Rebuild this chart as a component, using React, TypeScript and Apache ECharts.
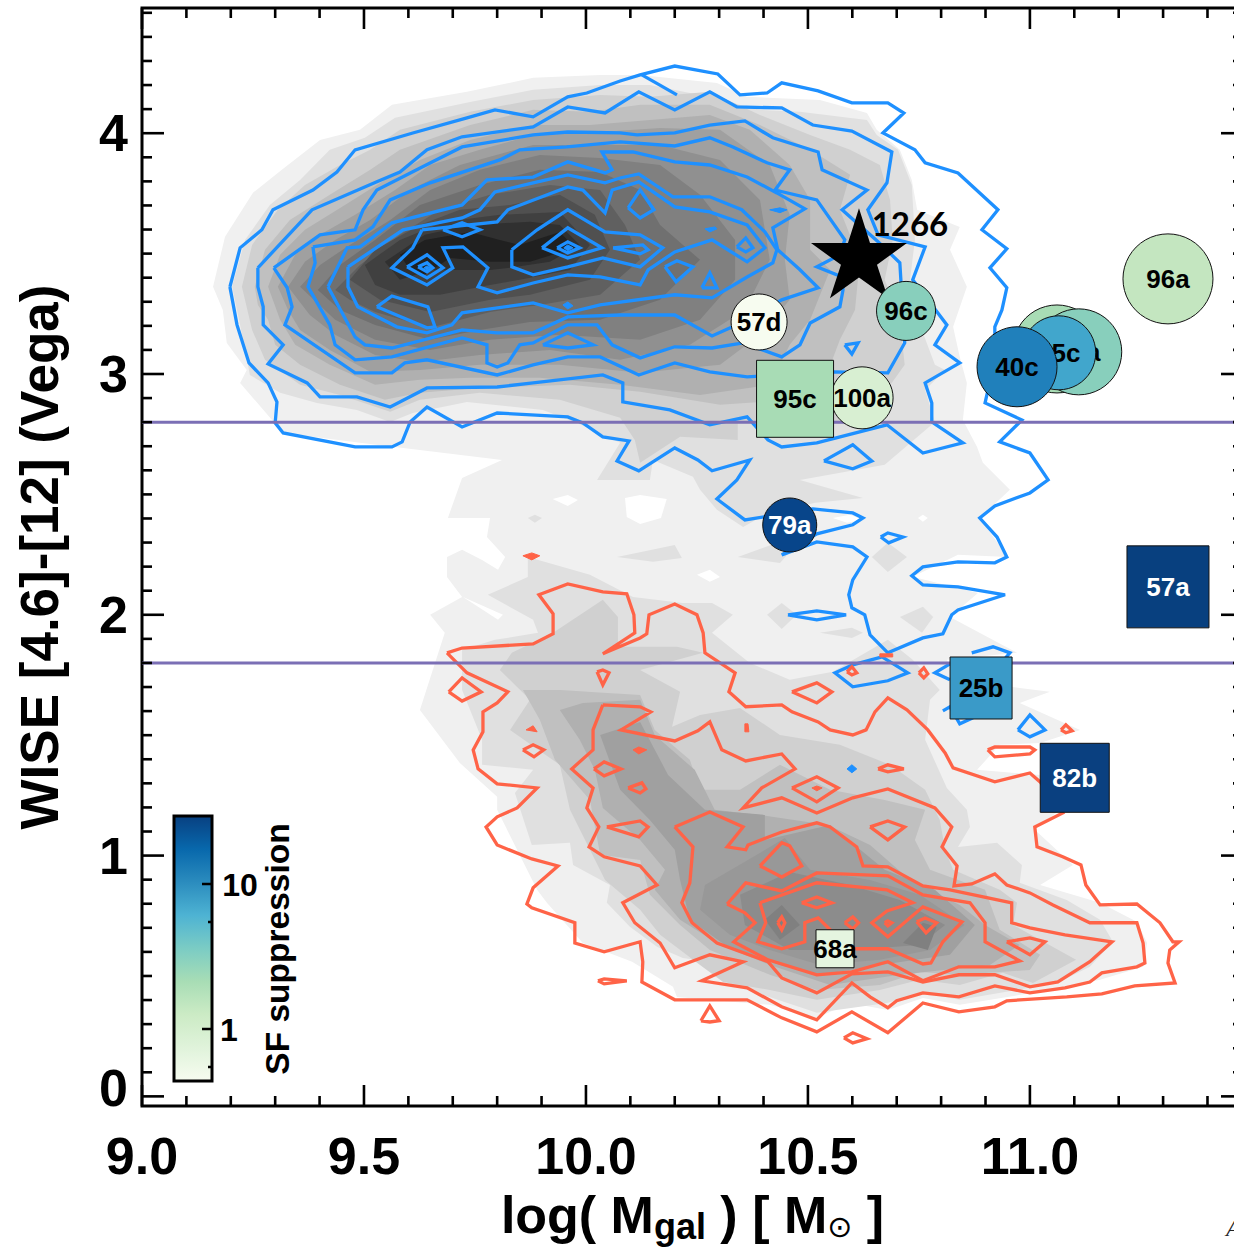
import React, { useEffect, useRef } from "react";
import * as echarts from "echarts";

type P = number[];

// axis values
const xTickLabels = [9, 9.5, 10, 10.5, 11];
const yTickLabels = [0, 1, 2, 3, 4];
const xMinorTicks = [9.1,9.2,9.3,9.4,9.6,9.7,9.8,9.9,10.1,10.2,10.3,10.4,10.6,10.7,10.8,10.9,11.1,11.2,11.3,11.4];
const yMinorTicks = [0.1,0.2,0.3,0.4,0.5,0.6,0.7,0.8,0.9,1.1,1.2,1.3,1.4,1.5,1.6,1.7,1.8,1.9,2.1,2.2,2.3,2.4,2.5,2.6,2.7,2.8,2.9,3.1,3.2,3.3,3.4,3.5,3.6,3.7,3.8,3.9,4.1,4.2,4.3,4.4,4.5];
const selectionLines = [2.8, 1.8];

// filled density levels
const grayOutline: P[] = [[9.160,3.362],[9.187,3.570],[9.250,3.753],[9.315,3.848],[9.401,3.972],[9.491,4.014],[9.563,4.118],[9.732,4.172],[9.881,4.230],[10.032,4.242],[10.122,4.242],[10.295,4.209],[10.363,4.151],[10.527,4.138],[10.633,4.084],[10.655,4.014],[10.707,3.931],[10.734,3.806],[10.746,3.682],[10.842,3.611],[10.820,3.516],[10.858,3.362],[10.827,3.196],[10.842,3.071],[10.858,2.963],[10.849,2.809],[10.881,2.697],[10.894,2.631],[10.955,2.519],[10.887,2.402],[10.950,2.240],[10.838,2.249],[10.736,2.158],[10.883,2.091],[10.820,1.991],[10.971,1.842],[10.813,1.813],[10.831,1.730],[11.045,1.680],[10.977,1.634],[11.113,1.522],[11.023,1.468],[10.932,1.460],[10.881,1.356],[11.023,1.335],[11.068,1.190],[11.011,1.107],[11.097,0.961],[11.023,0.878],[11.158,0.804],[11.241,0.725],[11.264,0.637],[11.255,0.538],[11.158,0.484],[11.007,0.430],[10.842,0.380],[10.759,0.409],[10.680,0.359],[10.595,0.388],[10.520,0.326],[10.414,0.380],[10.205,0.413],[10.196,0.455],[10.104,0.559],[9.993,0.637],[9.912,0.804],[9.890,0.858],[9.800,1.190],[9.800,1.244],[9.716,1.385],[9.626,1.605],[9.682,1.925],[9.649,2.000],[9.721,2.074],[9.687,2.157],[9.687,2.240],[9.721,2.270],[9.766,2.228],[9.802,2.187],[9.818,2.240],[9.777,2.323],[9.784,2.402],[9.689,2.402],[9.721,2.568],[9.811,2.643],[9.491,2.714],[9.318,2.755],[9.221,2.963],[9.236,3.017],[9.191,3.129],[9.182,3.266]];
const whiteHoles: P[][] = [
  [[9.925,2.481],[9.959,2.498],[9.982,2.477],[9.959,2.452]],
  [[10.088,2.485],[10.122,2.498],[10.182,2.481],[10.169,2.402],[10.122,2.377],[10.092,2.406]],
  [[10.250,2.166],[10.279,2.187],[10.302,2.157],[10.279,2.137]],
  [[10.748,2.402],[10.759,2.415],[10.770,2.402],[10.759,2.386]],
  [[9.946,1.198],[9.957,1.219],[9.968,1.198],[9.957,1.173]],
  [[10.556,2.402],[10.595,2.415],[10.624,2.394],[10.588,2.382]],
  [[9.723,2.074],[9.813,2.000],[9.802,1.979]],
];
const grayE0: P[][] = [
  [[9.203,3.362],[9.232,3.557],[9.288,3.702],[9.356,3.806],[9.423,3.931],[9.502,3.981],[9.570,4.064],[9.739,4.130],[9.881,4.180],[10.032,4.200],[10.144,4.200],[10.257,4.159],[10.392,4.097],[10.482,4.089],[10.633,4.055],[10.655,3.993],[10.703,3.931],[10.734,3.785],[10.741,3.557],[10.730,3.391],[10.748,3.225],[10.786,3.038],[10.809,3.017],[10.764,2.934],[10.786,2.801],[10.673,2.623],[10.482,2.560],[10.624,2.485],[10.516,2.465],[10.403,2.415],[10.354,2.365],[10.295,2.436],[10.257,2.519],[10.241,2.573],[10.151,2.643],[10.144,2.560],[10.025,2.560],[10.077,2.714],[9.980,2.797],[9.903,2.851],[9.732,2.884],[9.610,2.838],[9.559,2.801],[9.484,2.851],[9.394,2.880],[9.311,2.922],[9.243,2.996],[9.221,3.204]],
  [[10.070,2.240],[10.200,2.290],[10.216,2.236],[10.151,2.220]],
  [[10.342,2.240],[10.437,2.303],[10.459,2.261],[10.437,2.215]],
  [[10.408,2.000],[10.441,2.049],[10.475,2.000],[10.441,1.941]],
  [[10.644,2.240],[10.680,2.299],[10.723,2.240],[10.680,2.178]],
  [[10.707,1.991],[10.759,2.033],[10.782,1.991],[10.757,1.925]],
  [[10.527,1.925],[10.599,1.946],[10.624,1.925],[10.599,1.904]],
  [[9.869,2.402],[9.885,2.415],[9.901,2.402],[9.885,2.382]],
  [[9.779,2.083],[9.869,2.157],[9.869,2.240],[10.009,2.166],[10.106,2.074],[10.218,2.049],[10.284,2.049],[10.331,2.000],[10.284,1.925],[10.369,1.800],[10.459,1.730],[10.556,1.763],[10.680,1.896],[10.736,1.813],[10.797,1.688],[10.775,1.647],[10.764,1.481],[10.813,1.281],[10.858,1.190],[10.865,1.119],[10.838,1.036],[10.926,1.053],[10.982,0.961],[10.977,0.887],[11.083,0.816],[11.158,0.733],[11.187,0.642],[11.135,0.538],[11.061,0.471],[10.842,0.401],[10.759,0.430],[10.678,0.388],[10.520,0.347],[10.313,0.475],[10.279,0.559],[10.218,0.575],[10.160,0.621],[10.099,0.704],[10.047,0.804],[10.054,0.878],[9.971,0.961],[9.964,1.053],[9.878,1.044],[9.840,1.260],[9.881,1.356],[9.766,1.377],[9.766,1.481],[9.721,1.688],[9.721,1.854],[9.795,1.896],[9.892,1.925],[9.881,1.979]],
];
const grayD0: P[][] = [
  [[9.225,3.362],[9.248,3.536],[9.306,3.682],[9.367,3.785],[9.446,3.868],[9.514,3.931],[9.581,4.014],[9.739,4.089],[9.881,4.138],[10.032,4.159],[10.144,4.151],[10.279,4.172],[10.392,4.076],[10.505,3.993],[10.595,3.931],[10.662,3.868],[10.685,3.723],[10.691,3.557],[10.673,3.391],[10.707,3.225],[10.718,3.038],[10.662,2.893],[10.595,2.789],[10.459,2.810],[10.342,2.801],[10.342,2.726],[10.212,2.739],[10.122,2.631],[10.110,2.726],[10.077,2.818],[9.941,2.893],[9.761,2.922],[9.626,2.893],[9.559,2.843],[9.446,2.913],[9.356,2.955],[9.277,3.059],[9.248,3.183]],
  [[9.833,1.842],[9.926,1.925],[10.038,2.062],[10.072,1.991],[10.072,1.867],[10.205,1.867],[10.264,1.842],[10.122,1.771],[10.212,1.680],[10.194,1.535],[10.257,1.584],[10.347,1.613],[10.437,1.501],[10.572,1.460],[10.685,1.377],[10.764,1.273],[10.797,1.148],[10.809,1.024],[10.827,0.941],[10.932,0.858],[10.971,0.804],[10.962,0.712],[11.104,0.567],[11.007,0.471],[10.939,0.513],[10.842,0.463],[10.752,0.484],[10.662,0.442],[10.520,0.401],[10.414,0.442],[10.309,0.475],[10.257,0.546],[10.167,0.671],[10.122,0.775],[10.043,0.899],[10.009,1.024],[9.964,1.190],[9.941,1.377],[9.829,1.522],[9.874,1.647],[9.806,1.771]],
];
const grayC0: P[][] = [
  [[9.254,3.362],[9.277,3.516],[9.333,3.640],[9.423,3.744],[9.514,3.848],[9.581,3.931],[9.739,4.034],[9.881,4.097],[10.009,4.089],[10.122,4.118],[10.279,4.118],[10.392,4.034],[10.505,3.931],[10.595,3.827],[10.572,3.682],[10.617,3.474],[10.606,3.266],[10.572,3.142],[10.538,2.976],[10.459,2.893],[10.302,2.872],[10.122,2.926],[9.964,2.955],[9.761,2.942],[9.626,2.922],[9.547,2.893],[9.446,2.955],[9.356,3.038],[9.300,3.121],[9.284,3.225],[9.261,3.287]],
  [[9.858,1.688],[9.941,1.688],[10.122,1.667],[10.155,1.522],[10.234,1.398],[10.257,1.273],[10.347,1.273],[10.437,1.377],[10.550,1.273],[10.673,1.231],[10.764,1.190],[10.741,1.065],[10.775,0.941],[10.899,0.858],[10.932,0.692],[11.023,0.588],[11.000,0.525],[10.842,0.505],[10.752,0.517],[10.662,0.463],[10.520,0.442],[10.414,0.505],[10.279,0.608],[10.212,0.712],[10.144,0.837],[10.122,0.982],[10.032,1.003],[10.009,1.231],[9.930,1.398],[9.896,1.564]],
];
const grayB0: P[][] = [
  [[9.284,3.362],[9.311,3.495],[9.367,3.599],[9.457,3.702],[9.547,3.806],[9.626,3.889],[9.739,3.972],[9.881,4.034],[10.009,4.034],[10.144,4.055],[10.279,4.076],[10.369,4.014],[10.459,3.868],[10.505,3.723],[10.505,3.516],[10.550,3.433],[10.505,3.225],[10.459,3.121],[10.414,2.955],[10.257,2.913],[10.077,2.955],[9.896,2.984],[9.739,2.984],[9.626,2.976],[9.525,2.955],[9.423,3.038],[9.345,3.121],[9.311,3.225]],
  [[9.941,1.605],[9.993,1.634],[10.122,1.647],[10.155,1.501],[10.245,1.356],[10.290,1.190],[10.392,1.169],[10.545,1.127],[10.640,1.044],[10.730,0.899],[10.842,0.795],[10.899,0.712],[10.977,0.629],[10.910,0.546],[10.707,0.505],[10.550,0.463],[10.414,0.546],[10.302,0.629],[10.212,0.733],[10.155,0.858],[10.178,0.941],[10.122,1.065],[10.038,1.198],[10.020,1.356],[9.986,1.481]],
];
const grayA0: P[][] = [
  [[9.306,3.362],[9.345,3.495],[9.401,3.578],[9.480,3.661],[9.570,3.764],[9.649,3.868],[9.761,3.931],[9.881,3.993],[10.032,4.005],[10.167,4.022],[10.302,4.014],[10.414,3.868],[10.459,3.661],[10.448,3.474],[10.459,3.308],[10.392,3.163],[10.302,3.038],[10.122,3.005],[9.941,3.038],[9.761,3.038],[9.626,3.017],[9.514,3.009],[9.423,3.100],[9.356,3.183],[9.329,3.266]],
  [[10.032,1.501],[10.122,1.555],[10.185,1.335],[10.268,1.190],[10.403,1.169],[10.403,1.065],[10.550,1.127],[10.673,0.941],[10.786,0.858],[10.876,0.712],[10.820,0.588],[10.662,0.546],[10.527,0.505],[10.437,0.546],[10.313,0.629],[10.234,0.733],[10.212,0.899],[10.200,1.024],[10.144,1.148],[10.077,1.273]],
];
const gray98: P[][] = [
  [[10.268,0.878],[10.358,0.974],[10.448,1.073],[10.505,0.941],[10.640,0.899],[10.752,0.837],[10.853,0.712],[10.775,0.608],[10.662,0.567],[10.527,0.546],[10.414,0.608],[10.324,0.671],[10.257,0.775]],
];
const gray8C: P[][] = [
  [[10.347,0.837],[10.459,0.932],[10.595,0.878],[10.707,0.816],[10.809,0.712],[10.752,0.629],[10.595,0.608],[10.459,0.608],[10.358,0.712]],
];
const gray80Lower: P[][] = [
  [[10.403,0.733],[10.441,0.795],[10.482,0.712],[10.437,0.650]],
  [[10.714,0.637],[10.759,0.721],[10.790,0.704],[10.770,0.608]],
];
const gray90: P[] = [[9.329,3.362],[9.367,3.466],[9.435,3.557],[9.514,3.640],[9.604,3.764],[9.716,3.868],[9.881,3.951],[10.032,3.951],[10.167,3.951],[10.302,3.889],[10.392,3.723],[10.414,3.474],[10.358,3.266],[10.234,3.121],[10.077,3.059],[9.919,3.100],[9.761,3.079],[9.626,3.050],[9.525,3.079],[9.435,3.163],[9.378,3.245]];
const gray80: P[] = [[9.356,3.362],[9.401,3.453],[9.468,3.536],[9.559,3.640],[9.649,3.764],[9.761,3.848],[9.896,3.910],[10.032,3.897],[10.167,3.868],[10.257,3.744],[10.336,3.557],[10.336,3.391],[10.257,3.225],[10.122,3.142],[9.941,3.163],[9.784,3.142],[9.649,3.100],[9.525,3.142],[9.435,3.225]];
const gray70: P[] = [[9.396,3.349],[9.446,3.453],[9.525,3.557],[9.626,3.702],[9.761,3.785],[9.896,3.848],[10.032,3.839],[10.122,3.764],[10.167,3.619],[10.257,3.474],[10.167,3.308],[10.032,3.225],[9.874,3.216],[9.761,3.183],[9.649,3.142],[9.525,3.204],[9.446,3.266]];
const gray60: P[] = [[9.435,3.349],[9.491,3.453],[9.581,3.578],[9.671,3.682],[9.784,3.744],[9.919,3.785],[10.032,3.764],[10.088,3.619],[10.122,3.474],[10.032,3.329],[9.896,3.287],[9.784,3.258],[9.649,3.192],[9.525,3.258],[9.468,3.308]];
const gray50: P[] = [[9.468,3.391],[9.525,3.516],[9.626,3.619],[9.716,3.682],[9.829,3.702],[9.941,3.744],[10.020,3.661],[10.054,3.516],[10.009,3.391],[9.874,3.329],[9.784,3.308],[9.649,3.258],[9.536,3.308]];
const gray40: P[] = [[9.502,3.453],[9.581,3.557],[9.682,3.632],[9.806,3.661],[9.941,3.673],[10.009,3.536],[9.964,3.432],[9.851,3.391],[9.784,3.370],[9.671,3.329],[9.581,3.329],[9.525,3.370]];
const gray30: P[] = [[9.547,3.466],[9.637,3.578],[9.739,3.619],[9.874,3.632],[9.941,3.619],[9.986,3.536],[9.919,3.466],[9.829,3.441],[9.784,3.432],[9.649,3.432],[9.581,3.391]];
const gray20: P[] = [[9.581,3.495],[9.637,3.557],[9.739,3.590],[9.806,3.557],[9.851,3.536],[9.941,3.590],[9.975,3.524],[9.874,3.466],[9.784,3.466],[9.694,3.482],[9.637,3.412],[9.604,3.432]];

// high-colour contours
const blueA: P[] = [[9.198,3.362],[9.221,3.524],[9.270,3.599],[9.295,3.682],[9.385,3.764],[9.439,3.839],[9.480,3.931],[9.610,4.001],[9.732,4.064],[9.795,4.097],[9.881,4.068],[9.959,4.151],[10.002,4.167],[10.077,4.217],[10.122,4.242],[10.200,4.279],[10.297,4.246],[10.347,4.159],[10.408,4.167],[10.441,4.209],[10.523,4.176],[10.599,4.126],[10.680,4.126],[10.716,4.084],[10.669,4.001],[10.741,3.931],[10.764,3.877],[10.838,3.835],[10.928,3.682],[10.892,3.599],[10.948,3.520],[10.910,3.441],[10.948,3.358],[10.937,3.266],[10.921,3.196],[10.921,3.059],[10.899,2.880],[10.982,2.809],[10.932,2.718],[11.000,2.672],[11.041,2.560],[11.000,2.506],[10.921,2.452],[10.887,2.402],[10.926,2.323],[10.948,2.240],[10.921,2.216],[10.838,2.220],[10.759,2.199],[10.734,2.162],[10.759,2.124],[10.838,2.116],[10.944,2.083],[10.838,2.020],[10.824,2.000],[10.804,1.921],[10.759,1.904],[10.680,1.842],[10.640,1.916],[10.628,2.000],[10.599,2.029],[10.592,2.083],[10.601,2.145],[10.633,2.240],[10.601,2.282],[10.520,2.303],[10.441,2.249],[10.520,2.336],[10.601,2.374],[10.624,2.402],[10.601,2.423],[10.511,2.440],[10.358,2.394],[10.295,2.481],[10.340,2.560],[10.369,2.643],[10.284,2.598],[10.252,2.643],[10.200,2.693],[10.119,2.598],[10.070,2.639],[10.097,2.722],[10.038,2.739],[9.993,2.797],[9.959,2.822],[9.800,2.838],[9.721,2.780],[9.642,2.863],[9.604,2.801],[9.586,2.718],[9.563,2.697],[9.480,2.697],[9.318,2.755],[9.300,2.797],[9.304,2.884],[9.284,2.963],[9.241,3.046],[9.214,3.204]];
const blueB: P[] = [[9.261,3.441],[9.383,3.682],[9.529,3.798],[9.581,3.839],[9.642,3.931],[9.721,3.985],[9.881,4.026],[9.959,4.109],[10.043,4.084],[10.119,4.172],[10.200,4.097],[10.279,4.172],[10.340,4.109],[10.441,4.105],[10.511,4.034],[10.599,4.009],[10.689,3.922],[10.678,3.794],[10.635,3.682],[10.658,3.578],[10.764,3.528],[10.736,3.391],[10.813,3.204],[10.786,3.121],[10.842,3.046],[10.764,2.963],[10.779,2.880],[10.779,2.801],[10.849,2.714],[10.759,2.672],[10.678,2.789],[10.520,2.714],[10.441,2.697],[10.410,2.726],[10.363,2.822],[10.279,2.789],[10.189,2.851],[10.083,2.884],[10.083,2.963],[10.038,2.996],[9.881,2.963],[9.800,2.946],[9.642,2.942],[9.559,2.863],[9.484,2.905],[9.401,2.905],[9.372,2.963],[9.284,3.042],[9.318,3.121],[9.273,3.204],[9.273,3.279],[9.261,3.362]];
const blueC: P[] = [[9.297,3.441],[9.401,3.578],[9.480,3.599],[9.498,3.682],[9.529,3.764],[9.631,3.860],[9.721,3.943],[9.881,3.993],[9.959,4.005],[10.077,4.001],[10.115,3.993],[10.200,4.001],[10.279,4.034],[10.358,4.051],[10.421,3.981],[10.523,3.922],[10.532,3.848],[10.633,3.764],[10.577,3.682],[10.658,3.549],[10.707,3.462],[10.718,3.129],[10.680,3.005],[10.556,3.009],[10.363,2.988],[10.279,3.009],[10.200,3.046],[10.119,2.996],[10.032,3.071],[9.959,3.071],[9.881,3.038],[9.800,2.996],[9.642,3.059],[9.592,3.046],[9.563,3.005],[9.480,3.005],[9.322,3.204],[9.338,3.279],[9.327,3.358]];
const blueD: P[] = [[9.385,3.528],[9.480,3.557],[9.520,3.611],[9.559,3.723],[9.649,3.794],[9.806,3.889],[9.851,3.931],[9.957,3.943],[10.077,3.964],[10.200,3.947],[10.279,3.981],[10.331,3.943],[10.408,3.877],[10.459,3.848],[10.426,3.764],[10.520,3.723],[10.583,3.557],[10.572,3.495],[10.520,3.445],[10.577,3.403],[10.579,3.349],[10.572,3.279],[10.505,3.212],[10.482,3.121],[10.441,3.071],[10.354,3.129],[10.284,3.108],[10.200,3.113],[10.122,3.067],[10.059,3.121],[10.025,3.204],[9.959,3.204],[9.881,3.129],[9.851,3.121],[9.824,3.046],[9.800,3.029],[9.777,3.046],[9.777,3.121],[9.721,3.150],[9.563,3.071],[9.480,3.059],[9.435,3.121],[9.423,3.204],[9.374,3.362],[9.390,3.462]];
const blueE: P[] = [[9.419,3.362],[9.462,3.524],[9.491,3.528],[9.563,3.628],[9.721,3.702],[9.777,3.806],[9.881,3.818],[9.959,3.881],[10.043,3.835],[10.059,3.848],[10.036,3.922],[10.106,3.922],[10.200,3.881],[10.279,3.868],[10.363,3.818],[10.430,3.752],[10.493,3.686],[10.421,3.607],[10.432,3.516],[10.482,3.433],[10.523,3.358],[10.441,3.308],[10.354,3.216],[10.284,3.158],[10.200,3.245],[10.077,3.245],[9.959,3.237],[9.881,3.171],[9.800,3.171],[9.721,3.183],[9.563,3.108],[9.502,3.121],[9.480,3.154]];
const blueF: P[] = [[9.464,3.445],[9.588,3.599],[9.721,3.648],[9.761,3.682],[9.795,3.756],[9.881,3.794],[9.959,3.827],[10.043,3.794],[10.077,3.814],[10.119,3.831],[10.196,3.736],[10.279,3.736],[10.351,3.682],[10.403,3.590],[10.430,3.516],[10.421,3.462],[10.363,3.403],[10.284,3.316],[10.200,3.329],[10.032,3.287],[9.959,3.254],[9.881,3.295],[9.721,3.254],[9.698,3.204],[9.642,3.171],[9.574,3.196],[9.486,3.279],[9.464,3.362]];
const blueH: P[] = [[9.631,3.599],[9.800,3.632],[9.824,3.682],[9.959,3.777],[9.993,3.764],[10.043,3.669],[10.059,3.764],[10.119,3.798],[10.200,3.694],[10.279,3.673],[10.363,3.619],[10.403,3.524],[10.363,3.466],[10.284,3.557],[10.200,3.507],[10.140,3.432],[10.122,3.370],[10.032,3.403],[9.959,3.412],[9.881,3.378],[9.800,3.337],[9.757,3.362],[9.779,3.441],[9.723,3.528],[9.678,3.524],[9.700,3.441],[9.642,3.370],[9.563,3.441],[9.610,3.524]];
const blueI: P[] = [[9.833,3.516],[9.890,3.599],[9.959,3.682],[10.043,3.590],[10.122,3.578],[10.173,3.524],[10.122,3.445],[10.038,3.482],[9.959,3.445],[9.881,3.412],[9.833,3.445]];
const blueLoops: P[][] = [
  [[9.529,3.279],[9.563,3.324],[9.644,3.279],[9.660,3.196],[9.642,3.192]],
  [[9.901,3.524],[9.959,3.607],[10.036,3.524],[9.959,3.482]],
  [[9.935,3.524],[9.959,3.549],[9.986,3.524],[9.959,3.503]],
  [[9.597,3.445],[9.642,3.495],[9.678,3.441],[9.642,3.399]],
  [[9.622,3.445],[9.642,3.462],[9.655,3.441],[9.642,3.424]],
  [[9.678,3.599],[9.721,3.628],[9.761,3.599],[9.721,3.570]],
  [[9.903,3.121],[9.959,3.171],[10.016,3.121],[9.959,3.108]],
  [[10.061,3.524],[10.128,3.536],[10.140,3.516],[10.122,3.499]],
  [[10.095,3.690],[10.122,3.764],[10.153,3.682],[10.122,3.648]],
  [[10.340,3.528],[10.360,3.565],[10.376,3.524],[10.360,3.507]],
  [[10.178,3.445],[10.205,3.470],[10.241,3.445],[10.203,3.383]],
  [[10.261,3.358],[10.279,3.420],[10.295,3.358]],
  [[10.583,3.121],[10.613,3.129],[10.599,3.083]],
  [[10.536,2.639],[10.601,2.706],[10.644,2.639],[10.601,2.606]],
  [[10.664,2.323],[10.680,2.340],[10.714,2.323],[10.682,2.299]],
  [[10.455,2.000],[10.520,2.016],[10.586,2.000],[10.520,1.979]],
  [[10.667,1.825],[10.725,1.759],[10.680,1.726],[10.601,1.701],[10.561,1.759],[10.601,1.792]],
  [[10.973,1.522],[11.000,1.584],[11.034,1.522],[11.000,1.493]],
];
const blueOpen: P[][] = [
  [[10.126,4.242],[10.205,4.159]],
  [[10.820,1.730],[10.786,1.759],[10.820,1.796]],
  [[10.869,1.842],[10.917,1.867],[10.955,1.842],[10.932,1.792]],
  [[10.804,1.601],[10.820,1.618],[10.842,1.547],[10.872,1.572]],
];
const blueDots: P[][] = [
  [[10.414,3.682],[10.437,3.690],[10.453,3.682],[10.437,3.670]],
  [[10.268,3.603],[10.291,3.611],[10.295,3.603],[10.279,3.590]],
  [[9.948,3.287],[9.959,3.299],[9.971,3.283],[9.959,3.270]],
  [[10.588,1.360],[10.599,1.377],[10.610,1.360],[10.599,1.344]],
  [[9.950,3.524],[9.959,3.536],[9.971,3.524],[9.959,3.512]],
  [[9.635,3.441],[9.642,3.449],[9.649,3.441],[9.642,3.432]],
];

// low-colour contours
const redA: P[] = [[9.687,1.842],[9.721,1.862],[9.881,1.879],[9.926,1.921],[9.926,2.004],[9.894,2.083],[9.959,2.128],[10.038,2.095],[10.092,2.087],[10.108,2.000],[10.110,1.925],[10.038,1.838],[10.122,1.904],[10.137,1.921],[10.142,2.000],[10.200,2.045],[10.250,2.000],[10.264,1.925],[10.268,1.842],[10.336,1.759],[10.322,1.680],[10.360,1.618],[10.441,1.626],[10.464,1.597],[10.523,1.555],[10.550,1.522],[10.601,1.501],[10.631,1.522],[10.651,1.597],[10.680,1.655],[10.723,1.605],[10.770,1.522],[10.809,1.426],[10.827,1.364],[10.921,1.306],[11.000,1.343],[11.023,1.306],[11.074,1.177],[11.011,1.119],[11.016,1.036],[11.074,0.995],[11.115,0.961],[11.126,0.878],[11.158,0.795],[11.241,0.799],[11.293,0.721],[11.322,0.642],[11.336,0.642],[11.315,0.608],[11.311,0.554],[11.327,0.471],[11.236,0.459],[11.162,0.426],[11.083,0.413],[10.948,0.397],[10.921,0.372],[10.840,0.351],[10.759,0.388],[10.680,0.264],[10.599,0.351],[10.520,0.268],[10.441,0.326],[10.363,0.401],[10.200,0.401],[10.126,0.475],[10.128,0.559],[10.122,0.642],[10.041,0.600],[9.975,0.637],[9.975,0.721],[9.878,0.783],[9.867,0.799],[9.881,0.866],[9.937,0.957],[9.878,0.986],[9.800,1.044],[9.775,1.119],[9.800,1.161],[9.845,1.198],[9.890,1.281],[9.800,1.298],[9.757,1.360],[9.746,1.439],[9.768,1.514],[9.768,1.597],[9.800,1.634],[9.824,1.680],[9.732,1.759]];
const redB: P[] = [[10.038,1.626],[10.122,1.618],[10.146,1.597],[10.079,1.522],[10.200,1.476],[10.252,1.518],[10.279,1.555],[10.306,1.439],[10.360,1.393],[10.441,1.422],[10.471,1.360],[10.396,1.281],[10.354,1.198],[10.441,1.240],[10.520,1.177],[10.601,1.240],[10.680,1.277],[10.786,1.198],[10.824,1.119],[10.802,1.036],[10.836,0.957],[10.829,0.874],[10.869,0.882],[10.921,0.924],[10.948,0.878],[11.000,0.845],[11.052,0.795],[11.135,0.721],[11.241,0.721],[11.255,0.637],[11.259,0.554],[11.241,0.538],[11.162,0.513],[11.135,0.475],[11.079,0.451],[11.000,0.430],[10.921,0.459],[10.840,0.413],[10.759,0.430],[10.700,0.397],[10.680,0.368],[10.640,0.413],[10.599,0.471],[10.520,0.318],[10.441,0.372],[10.363,0.451],[10.261,0.480],[10.354,0.559],[10.279,0.588],[10.200,0.534],[10.167,0.637],[10.110,0.721],[10.083,0.804],[10.160,0.878],[10.122,0.957],[10.041,0.995],[10.007,1.036],[10.029,1.119],[10.002,1.198],[10.016,1.281],[9.968,1.360],[10.016,1.439],[10.016,1.522]];
const redC: P[] = [[10.200,1.119],[10.279,1.181],[10.354,1.119],[10.318,1.036],[10.360,1.024],[10.365,1.044],[10.441,1.098],[10.520,1.136],[10.550,1.119],[10.610,1.036],[10.624,0.957],[10.680,0.953],[10.759,0.874],[10.820,0.858],[10.959,0.804],[10.959,0.721],[11.000,0.700],[11.079,0.671],[11.185,0.642],[11.135,0.559],[11.063,0.475],[11.000,0.455],[10.921,0.505],[10.840,0.505],[10.759,0.475],[10.680,0.517],[10.599,0.509],[10.520,0.430],[10.441,0.492],[10.410,0.559],[10.295,0.637],[10.239,0.721],[10.216,0.804],[10.234,0.887],[10.241,1.036]];
const redD: P[] = [[10.318,0.799],[10.360,0.887],[10.441,0.853],[10.520,0.928],[10.680,0.916],[10.759,0.837],[10.865,0.804],[10.899,0.721],[10.899,0.642],[10.977,0.563],[10.921,0.538],[10.840,0.538],[10.759,0.480],[10.680,0.559],[10.599,0.517],[10.520,0.505],[10.410,0.567],[10.333,0.642],[10.381,0.721],[10.358,0.762]];
const redE: P[] = [[10.392,0.804],[10.520,0.887],[10.678,0.858],[10.736,0.804],[10.678,0.770],[10.644,0.721],[10.680,0.663],[10.759,0.787],[10.847,0.725],[10.804,0.642],[10.777,0.554],[10.759,0.550],[10.680,0.613],[10.601,0.613],[10.550,0.692],[10.523,0.741],[10.493,0.721],[10.493,0.642],[10.441,0.613],[10.387,0.642],[10.405,0.721]];
const redLoops: P[][] = [
  [[10.486,0.804],[10.520,0.828],[10.554,0.804],[10.520,0.783]],
  [[10.432,0.721],[10.441,0.745],[10.448,0.721],[10.441,0.692]],
  [[10.583,0.721],[10.601,0.745],[10.614,0.721],[10.601,0.696]],
  [[10.673,0.721],[10.680,0.729],[10.689,0.721],[10.680,0.708]],
  [[10.745,0.725],[10.764,0.741],[10.790,0.721],[10.766,0.679]],
  [[10.392,0.957],[10.441,1.053],[10.459,1.040],[10.486,0.957],[10.441,0.911]],
  [[10.640,1.119],[10.680,1.144],[10.718,1.119],[10.680,1.065]],
  [[10.948,0.642],[11.000,0.658],[11.034,0.642],[11.000,0.588]],
  [[10.464,1.281],[10.520,1.327],[10.568,1.281],[10.520,1.223]],
  [[10.658,1.360],[10.680,1.377],[10.716,1.360],[10.680,1.348]],
  [[10.905,1.439],[10.921,1.451],[11.000,1.451],[11.011,1.439],[11.000,1.422],[10.921,1.410]],
  [[9.858,1.439],[9.881,1.460],[9.905,1.439],[9.883,1.410]],
  [[10.018,1.360],[10.041,1.389],[10.079,1.360],[10.041,1.331]],
  [[10.095,1.281],[10.126,1.302],[10.135,1.277],[10.122,1.260]],
  [[10.047,1.119],[10.122,1.144],[10.140,1.119],[10.119,1.078]],
  [[10.027,0.480],[10.041,0.488],[10.092,0.480],[10.041,0.467]],
  [[10.259,0.314],[10.279,0.376],[10.300,0.314],[10.279,0.309]],
  [[10.581,0.243],[10.601,0.264],[10.633,0.239],[10.601,0.222]],
  [[9.691,1.680],[9.721,1.738],[9.764,1.680],[9.721,1.642]],
  [[10.025,1.763],[10.038,1.771],[10.052,1.759],[10.038,1.709]],
  [[10.588,1.763],[10.599,1.784],[10.610,1.759],[10.599,1.750]],
  [[10.750,1.759],[10.761,1.780],[10.770,1.755],[10.761,1.738]],
  [[10.464,1.680],[10.520,1.717],[10.554,1.680],[10.520,1.634]],
  [[11.070,1.522],[11.081,1.543],[11.095,1.518],[11.081,1.510]],
];
const redDots: P[][] = [
  [[10.509,1.281],[10.520,1.289],[10.532,1.281],[10.520,1.269]],
  [[10.106,1.439],[10.119,1.451],[10.137,1.439],[10.119,1.422]],
  [[9.865,1.522],[9.881,1.539],[9.890,1.514]],
  [[9.858,2.245],[9.878,2.257],[9.896,2.245],[9.878,2.228]],
  [[10.358,1.547],[10.365,1.547],[10.367,1.514],[10.358,1.514]],
  [[10.662,1.838],[10.691,1.838],[10.691,1.825],[10.662,1.825]],
];

// labelled sources, bottom to top
const sourceNames = ["", "60a", "25c", "40c", "96a", "57d", "96c", "100a", "95c", "79a", "57a", "25b", "82b", "68a"];
const sourceMass = [11.061, 11.110, 11.065, 10.971, 11.311, 10.390, 10.721, 10.622, 10.471, 10.459, 11.311, 10.890, 11.101, 10.561];
const sourceColor = [3.104, 3.092, 3.088, 3.030, 3.395, 3.216, 3.262, 2.901, 2.897, 2.373, 2.116, 1.696, 1.323, 0.613];
const sourceSuppression = [1.5, 2.6, 7, 10, 1.2, 0.4, 2.6, 0.9, 1.6, 30, 30, 7, 30, 0.6];
const starPoint = [10.615, 3.501];
const starName = "1266";

// styles
const FONT = "'Liberation Sans', Arial, sans-serif";
const MARKER_SHAPE = ["circle","circle","circle","circle","circle","circle","circle","circle","rect","circle","rect","rect","rect","rect"];
const MARKER_SIZE = [88, 86, 74, 80, 90, 56, 59, 62, 77, 54, 82, 62, 69, 38];
const MARKER_FILL = ["#a8dcb5","#88cfbc","#41a6cc","#2080bb","#c4e6c0","#f7fcf0","#88cfbc","#d8efd2","#a8dcb5","#08458a","#08407f","#3a9ac8","#0a4080","#e5f5e0"];
const MARKER_TEXT = ["#000","#000","#000","#000","#000","#000","#000","#000","#000","#fff","#fff","#000","#fff","#000"];
const STAR_PATH = "path://M50 0 L61 35 L98 35 L68 57 L79 91 L50 70 L21 91 L32 57 L2 35 L39 35 Z";
const BLUE = "#1e90ff";
const RED = "#ff6347";

const grayLayers: [P[][], string][] = [
  [[grayOutline], "#f0f0f0"], [whiteHoles, "#ffffff"], [grayE0, "#e0e0e0"], [grayD0, "#d0d0d0"],
  [grayC0, "#c0c0c0"], [grayB0, "#b0b0b0"], [grayA0, "#a0a0a0"], [gray98, "#989898"], [gray8C, "#8c8c8c"], [gray80Lower, "#808080"],
  [[gray90], "#909090"], [[gray80], "#808080"], [[gray70], "#707070"], [[gray60], "#606060"], [[gray50], "#505050"],
  [[gray40], "#404040"], [[gray30], "#303030"], [[gray20], "#202020"],
];

function polygons(list: P[][], fill: string, z: number, stroke?: string) {
  return {
    type: "custom", coordinateSystem: "cartesian2d", z, silent: true, clip: true,
    encode: { x: 0, y: 1 },
    data: list.map((c) => c[0]),
    renderItem: (params: any, api: any) => ({
      type: "polygon",
      shape: { points: list[params.dataIndex].map((p) => api.coord(p)) },
      style: { fill, stroke: stroke || "none", lineWidth: stroke ? 1 : 0 },
    }),
  };
}
function polylines(list: P[][], closed: boolean, stroke: string, z: number) {
  return {
    type: "custom", coordinateSystem: "cartesian2d", z, silent: true, clip: true,
    encode: { x: 0, y: 1 },
    data: list.map((c) => c[0]),
    renderItem: (params: any, api: any) => {
      const c = list[params.dataIndex];
      const pts = (closed ? [...c, c[0]] : c).map((p) => api.coord(p));
      return { type: "polyline", shape: { points: pts }, style: { fill: "none", stroke, lineWidth: 3.3, lineJoin: "miter" } };
    },
  };
}
function ticks(values: number[], vertical: boolean, len: number) {
  return {
    type: "custom", coordinateSystem: "cartesian2d", z: 5, silent: true, clip: false,
    encode: { x: 0, y: 1 },
    data: values.map((v) => (vertical ? [v, 1] : [9.5, v])),
    renderItem: (params: any, api: any) => {
      const r = params.coordSys;
      const p = api.coord(vertical ? [values[params.dataIndex], 1] : [9.5, values[params.dataIndex]]);
      const style = { stroke: "#000", lineWidth: 2.6 };
      const a = vertical
        ? { x1: p[0], y1: r.y, x2: p[0], y2: r.y + len }
        : { x1: r.x, y1: p[1], x2: r.x + len, y2: p[1] };
      const b = vertical
        ? { x1: p[0], y1: r.y + r.height, x2: p[0], y2: r.y + r.height - len }
        : { x1: r.x + r.width, y1: p[1], x2: r.x + r.width - len, y2: p[1] };
      return { type: "group", children: [{ type: "line", shape: a, style }, { type: "line", shape: b, style }] };
    },
  };
}

export default function App() {
  const ref = useRef<HTMLDivElement>(null);
  useEffect(() => {
    const chart = echarts.init(ref.current!, undefined, { renderer: "svg" });
    const series: any[] = [];
    grayLayers.forEach(([l, c]) => series.push(polygons(l, c, 1)));
    series.push(polylines([blueA, blueB, blueC, blueD, blueE, blueF, blueH, blueI, ...blueLoops], true, BLUE, 2));
    series.push(polylines(blueOpen, false, BLUE, 2));
    series.push(polygons(blueDots, BLUE, 2, BLUE));
    series.push(polylines([redA, redB, redC, redD, redE, ...redLoops], true, RED, 2));
    series.push(polygons(redDots, RED, 2, RED));
    selectionLines.forEach((v) =>
      series.push({
        type: "line", z: 3, silent: true, symbol: "none",
        data: [[9, v], [11.48, v]],
        lineStyle: { color: "#7b6fb5", width: 3 },
      })
    );
    series.push(ticks(xTickLabels, true, 21), ticks(xMinorTicks, true, 10), ticks(yTickLabels, false, 22), ticks(yMinorTicks, false, 10));

    const starIndex = 5;
    sourceNames.forEach((name, i) => {
      series.push({
        type: "scatter", z: 10 + i * 2, silent: true,
        symbol: MARKER_SHAPE[i], symbolSize: MARKER_SIZE[i],
        itemStyle: { color: MARKER_FILL[i], borderColor: "#111", borderWidth: 1, opacity: 1 },
        label: {
          show: !!name, position: "inside", formatter: name,
          color: MARKER_TEXT[i], fontFamily: FONT, fontWeight: "bold", fontSize: 26,
        },
        data: [[sourceMass[i], sourceColor[i], sourceSuppression[i]]],
      });
      if (i === starIndex) {
        series.push({
          type: "scatter", z: 10 + i * 2 + 1, silent: true,
          symbol: STAR_PATH, symbolSize: [96, 90],
          itemStyle: { color: "#000", opacity: 1 },
          label: {
            show: true, position: "inside", offset: [51, -30], formatter: starName,
            color: "#000", fontFamily: "Lato", fontWeight: "bold", fontSize: 33,
          },
          data: [starPoint],
        });
      }
    });

    const gradient = new echarts.graphic.LinearGradient(0, 0, 0, 1, [
      { offset: 0, color: "#084081" }, { offset: 0.125, color: "#0868ac" }, { offset: 0.25, color: "#2b8cbe" },
      { offset: 0.375, color: "#4eb3d3" }, { offset: 0.5, color: "#7bccc4" }, { offset: 0.625, color: "#a8ddb5" },
      { offset: 0.75, color: "#ccebc5" }, { offset: 0.875, color: "#e0f3db" }, { offset: 1, color: "#f7fcf0" },
    ]);
    const tickStyle = { stroke: "#000", lineWidth: 2.5 };
    const txt = (text: string, x: number, y: number, size: number, rot = 0) => ({
      type: "text", x, y, rotation: rot, z: 100,
      style: { text, fontFamily: FONT, fontWeight: "bold", fontSize: size, fill: "#000", align: "center", verticalAlign: "middle" },
    });
    chart.setOption({
      animation: false,
      grid: { left: 142, top: 8, width: 1101, height: 1098, show: true, borderColor: "#000", borderWidth: 3, backgroundColor: "#fff", containLabel: false, outerBoundsMode: "none" },
      xAxis: {
        type: "value", min: 9, max: 11.48, splitLine: { show: false }, axisTick: { show: false }, axisLine: { show: false },
        axisLabel: {
          customValues: xTickLabels, formatter: (v: number) => v.toFixed(1), margin: 24,
          color: "#000", fontFamily: FONT, fontWeight: "bold", fontSize: 52,
        },
        name: "log( M{s|gal} ) [ M{t|⊙} ]", nameLocation: "middle", nameGap: 80,
        nameTextStyle: {
          color: "#000", fontFamily: FONT, fontWeight: "bold", fontSize: 52,
          rich: {
            s: { fontFamily: FONT, fontWeight: "bold", fontSize: 36, padding: [22, 0, 0, 0] },
            t: { fontFamily: "'DejaVu Sans'", fontWeight: "normal", fontSize: 30, padding: [22, 0, 0, 0] },
          },
        },
      },
      yAxis: {
        type: "value", min: -0.04, max: 4.52, splitLine: { show: false }, axisTick: { show: false }, axisLine: { show: false },
        axisLabel: {
          customValues: yTickLabels, margin: 14,
          formatter: (v: number) => (v === 0 ? "{z|0}" : String(v)),
          color: "#000", fontFamily: FONT, fontWeight: "bold", fontSize: 52,
          rich: { z: { color: "#000", fontFamily: FONT, fontWeight: "bold", fontSize: 52, padding: [0, 0, 16, 0] } },
        },
        name: "WISE [4.6]-[12] (Vega)", nameLocation: "middle", nameGap: 76, nameRotate: 90,
        nameTextStyle: { color: "#000", fontFamily: FONT, fontWeight: "bold", fontSize: 53 },
      },
      series,
      graphic: {
        elements: [
          { type: "rect", z: 100, shape: { x: 174, y: 816, width: 38, height: 265 }, style: { fill: gradient, stroke: "#000", lineWidth: 3 } },
          { type: "line", z: 101, shape: { x1: 202, y1: 884, x2: 212, y2: 884 }, style: tickStyle },
          { type: "line", z: 101, shape: { x1: 208, y1: 922, x2: 212, y2: 922 }, style: tickStyle },
          { type: "line", z: 101, shape: { x1: 202, y1: 1029, x2: 212, y2: 1029 }, style: tickStyle },
          { type: "line", z: 101, shape: { x1: 208, y1: 1067, x2: 212, y2: 1067 }, style: tickStyle },
          txt("10", 240, 885, 32),
          txt("1", 229, 1030, 32),
          txt("SF suppression", 277, 949, 33.5, Math.PI / 2),
          {
            type: "text", x: 1226, y: 1228, z: 100,
            style: { text: "A", fontFamily: "'Liberation Serif'", fontStyle: "italic", fontSize: 24, fill: "#222", verticalAlign: "middle" },
          },
        ],
      },
    });
    return () => chart.dispose();
  }, []);
  return <div ref={ref} style={{ position: "absolute", left: 0, top: 0, width: 1234, height: 1248, background: "#fff" }} />;
}
